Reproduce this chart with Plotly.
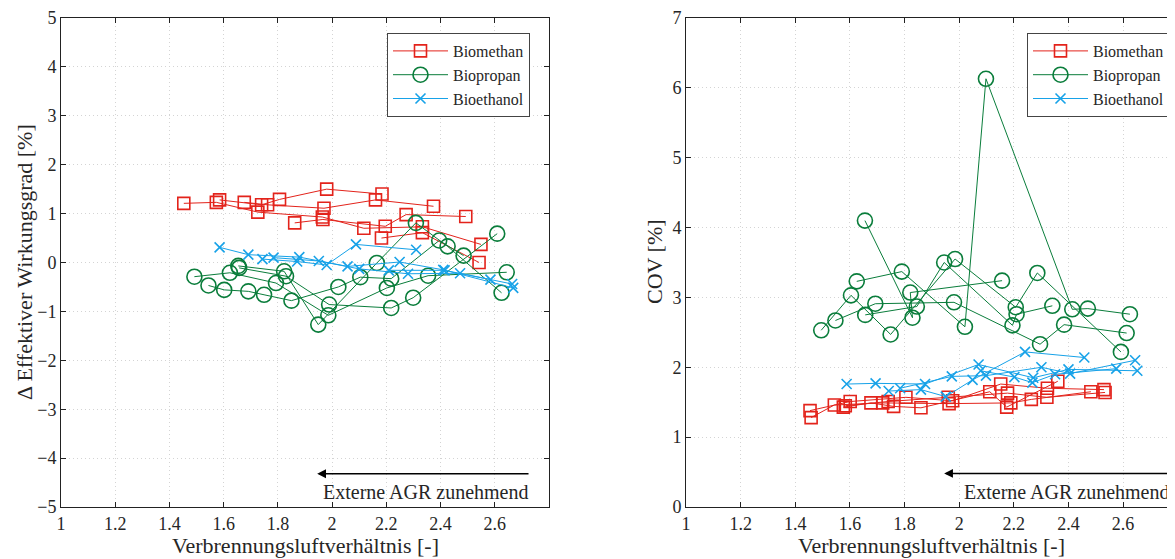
import plotly.graph_objects as go

# ---------------- data (None separates individual EGR sweeps) ----------------
# Left: Delta effective efficiency [%]
lam_methan_eff = [2.184, 1.980, 1.806, 1.740, 1.585, None,
                  2.374, 2.160, 1.970, 1.762, 1.676, None,
                  2.493, 2.273, 2.196, 1.966, 1.862, None,
                  2.549, 2.333, 2.117, 1.964, 1.726, 1.573, 1.453, None,
                  2.542, 2.333, 2.182]
eff_methan = [1.40, 1.50, 1.29, 1.18, 1.28, None,
              1.15, 1.28, 1.11, 1.18, 1.23, None,
              0.94, 0.98, 0.74, 0.88, 0.81, None,
              0.37, 0.73, 0.70, 0.93, 1.03, 1.23, 1.21, None,
              0.00, 0.61, 0.50]

lam_propan_eff = [2.609, 2.299, 2.218, 1.989, 1.830, 1.657, None,
                  2.625, 2.426, 2.309, 2.165, 1.949, 1.823, 1.654, None,
                  2.644, 2.354, 2.202, 1.986, 1.793, 1.623, 1.492, None,
                  2.485, 2.395, 2.218, 2.104, 2.023, 1.850, 1.749, 1.691, 1.602, 1.544]
eff_propan = [0.59, -0.72, -0.93, -0.86, -0.28, -0.11, None,
              -0.62, 0.33, 0.81, -0.01, -1.27, -0.18, -0.07, None,
              -0.20, -0.27, -0.52, -1.08, -0.42, -0.21, -0.29, None,
              0.14, 0.45, -0.33, -0.30, -0.50, -0.78, -0.66, -0.59, -0.56, -0.47]

lam_ethanol_eff = [2.310, 2.088, 1.980, 1.871, 1.743, None,
                   2.668, 2.410, 2.249, 2.057, 1.879, 1.691, 1.585, None,
                   2.664, 2.472, 2.280, 2.100, 1.951, 1.784, None,
                   2.584, 2.415, 2.209]
eff_ethanol = [0.26, 0.37, -0.05, 0.02, 0.07, None,
               -0.52, -0.15, 0.01, -0.08, 0.11, 0.16, 0.31, None,
               -0.44, -0.22, -0.23, -0.13, 0.03, 0.10, None,
               -0.35, -0.16, -0.16]

# Right: COV [%]
lam_methan_cov = [2.530, 2.323, 2.152, 1.976, 1.805, 1.601, 1.454, None,
                  2.534, 2.321, 2.177, 1.960, 1.740, 1.583, None,
                  2.482, 2.264, 2.189, 1.963, 1.720, 1.543, 1.458, None,
                  2.361, 2.174, 2.112, 1.860, 1.760, 1.677, 1.576]
cov_methan = [1.68, 1.70, 1.76, 1.52, 1.57, 1.51, 1.38, None,
              1.64, 1.57, 1.63, 1.57, 1.51, 1.45, None,
              1.65, 1.54, 1.49, 1.48, 1.49, 1.46, 1.28, None,
              1.80, 1.43, 1.65, 1.42, 1.44, 1.49, 1.43]

lam_propan_cov = [2.625, 2.471, 2.414, 2.098, 2.021, 1.790, 1.625, None,
                  2.592, 2.286, 2.207, 1.985, 1.749, 1.604, 1.495, None,
                  2.613, 2.384, 2.296, 1.981, 1.693, 1.547, None,
                  2.341, 2.210, 2.195, 1.945, 1.845, 1.656, None,
                  2.157, 1.821, 1.829, 1.655]
cov_propan = [2.76, 2.84, 2.83, 6.13, 2.58, 3.37, 3.23, None,
              2.22, 3.35, 2.86, 3.55, 2.47, 3.03, 2.53, None,
              2.49, 2.61, 2.33, 2.93, 2.91, 2.67, None,
              2.88, 2.76, 2.60, 3.50, 2.87, 2.75, None,
              3.24, 3.07, 2.71, 4.10]

lam_ethanol_cov = [2.458, 2.241, 2.049, 1.951, 1.860, 1.742, None,
                   2.652, 2.400, 2.271, 2.071, 1.875, 1.694, 1.588, None,
                   2.644, 2.406, 2.301, 2.098, 1.973, 1.784, None,
                   2.575, 2.351, 2.268, 2.202, 2.079]
cov_ethanol = [2.14, 2.22, 1.82, 1.58, 1.68, 1.66, None,
               1.95, 1.97, 1.85, 2.04, 1.76, 1.77, 1.76, None,
               2.10, 1.91, 2.00, 1.88, 1.87, 1.70, None,
               1.98, 1.90, 1.78, 1.86, 1.95]

fuel_names = ["Biomethan", "Biopropan", "Bioethanol"]
x_tickvals = [1, 1.2, 1.4, 1.6, 1.8, 2, 2.2, 2.4, 2.6]
x_ticktext = ["1", "1.2", "1.4", "1.6", "1.8", "2", "2.2", "2.4", "2.6"]
eff_ticks = [-5, -4, -3, -2, -1, 0, 1, 2, 3, 4, 5]
cov_ticks = [0, 1, 2, 3, 4, 5, 6, 7]

# ---------------- styling ----------------
# page body has an 8 px margin: figure is sized to fit the 1175x559 window
OFF = 8
W, H = 1175 - OFF, 559 - OFF


def fx(p):  # window pixel -> paper x
    return (p - OFF) / W


def fy(p):  # window pixel -> paper y
    return 1 - (p - OFF) / H


FONT = "Liberation Serif"
TXT = "#262626"
RED, GREEN, BLUE = "#E3231B", "#0A7D3B", "#17A2E8"
styles = {
    "Biomethan": dict(color=RED, symbol="square-open", size=12),
    "Biopropan": dict(color=GREEN, symbol="circle-open", size=15),
    "Bioethanol": dict(color=BLUE, symbol="x-thin-open", size=10),
}

fig = go.Figure()

left_sets = [(lam_methan_eff, eff_methan), (lam_propan_eff, eff_propan), (lam_ethanol_eff, eff_ethanol)]
right_sets = [(lam_methan_cov, cov_methan), (lam_propan_cov, cov_propan), (lam_ethanol_cov, cov_ethanol)]

for (xa, ya, lg), sets in [(("x", "y", "legend"), left_sets), (("x2", "y2", "legend2"), right_sets)]:
    for name, (xs, ys) in zip(fuel_names, sets):
        s = styles[name]
        fig.add_trace(go.Scatter(
            x=xs, y=ys, mode="lines+markers", name=name, xaxis=xa, yaxis=ya,
            legend=lg, connectgaps=False,
            line=dict(color=s["color"], width=1),
            marker=dict(symbol=s["symbol"], size=s["size"], color=s["color"],
                        line=dict(color=s["color"], width=1.6)),
        ))

ydom = [fy(507), fy(18)]
axis_common = dict(
    showline=True, linecolor="#222222", linewidth=1, mirror="ticks",
    ticks="inside", ticklen=5, tickcolor="#222222",
    showgrid=True, gridcolor="#d4d4d4", griddash="1px,3px", gridwidth=1,
    zeroline=False, automargin=False,
    tickfont=dict(family=FONT, size=18, color=TXT),
)

legend_common = dict(
    y=fy(33), yanchor="top", xanchor="right",
    bgcolor="white", bordercolor="#444444", borderwidth=1,
    font=dict(family=FONT, size=16, color=TXT), itemwidth=55,
    tracegroupgap=0,
)

fig.update_layout(
    width=W, height=H, autosize=False,
    margin=dict(l=0, r=0, t=0, b=0, pad=0, autoexpand=False),
    paper_bgcolor="white", plot_bgcolor="white",
    font=dict(family=FONT, color=TXT),
    xaxis=dict(domain=[fx(61), fx(549)], range=[1, 2.8], tickvals=x_tickvals,
               ticktext=x_ticktext, anchor="y", **axis_common),
    yaxis=dict(domain=ydom, range=[-5, 5], tickvals=eff_ticks, anchor="x", **axis_common),
    xaxis2=dict(domain=[fx(686), 1.0], range=[1, 2.79], tickvals=x_tickvals,
                ticktext=x_ticktext, anchor="y2", **axis_common),
    yaxis2=dict(domain=ydom, range=[0, 7], tickvals=cov_ticks, anchor="x2", **axis_common),
    legend=dict(x=fx(530), **legend_common),
    legend2=dict(x=fx(1170), **legend_common),
    showlegend=True,
)

annots = []
# arrows
annots.append(dict(x=1.945, y=-4.32, ax=2.73, ay=-4.32, xref="x", yref="y", axref="x", ayref="y",
                   showarrow=True, arrowhead=2, arrowsize=1.1, arrowwidth=1.6, arrowcolor="black", text=""))
annots.append(dict(x=2.735, y=-4.70, xref="x", yref="y", xanchor="right", yanchor="middle",
                   text="Externe AGR zunehmend", showarrow=False,
                   font=dict(family=FONT, size=20, color=TXT)))
annots.append(dict(x=1.945, y=0.48, ax=2.775, ay=0.48, xref="x2", yref="y2", axref="x2", ayref="y2",
                   showarrow=True, arrowhead=2, arrowsize=1.1, arrowwidth=1.6, arrowcolor="black", text=""))
annots.append(dict(x=2.78, y=0.22, xref="x2", yref="y2", xanchor="right", yanchor="middle",
                   text="Externe AGR zunehmend", showarrow=False,
                   font=dict(family=FONT, size=20, color=TXT)))
# axis titles
title_font = dict(family=FONT, size=22, color=TXT)
annots.append(dict(x=fx(305), y=fy(545), xref="paper", yref="paper", text="Verbrennungsluftverhältnis [-]",
                   showarrow=False, xanchor="center", yanchor="middle", font=title_font))
annots.append(dict(x=fx(931), y=fy(545), xref="paper", yref="paper", text="Verbrennungsluftverhältnis [-]",
                   showarrow=False, xanchor="center", yanchor="middle", font=title_font))
annots.append(dict(x=fx(25), y=fy(262), xref="paper", yref="paper", text="Δ Effektiver Wirkungsgrad [%]",
                   showarrow=False, xanchor="center", yanchor="middle", textangle=-90, font=title_font))
annots.append(dict(x=fx(655), y=fy(262), xref="paper", yref="paper", text="COV [%]",
                   showarrow=False, xanchor="center", yanchor="middle", textangle=-90, font=title_font))
fig.update_layout(annotations=annots)

fig.write_html("out.html")
